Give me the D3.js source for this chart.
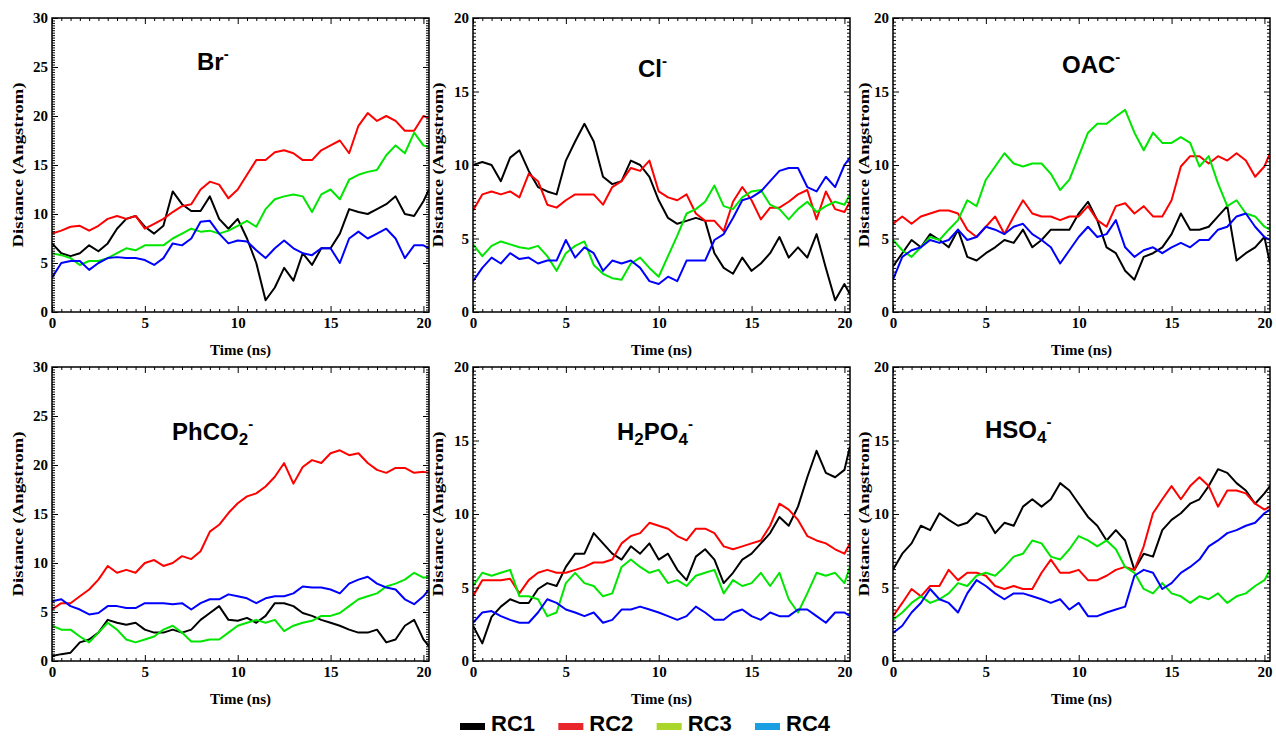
<!DOCTYPE html>
<html>
<head>
<meta charset="utf-8">
<script src="https://cdn.jsdelivr.net/npm/d3@7"></script>
<style>
  body { margin: 0; background: #fff; }
  .tick text { font-family: "Liberation Serif", "Times New Roman", serif; font-weight: bold; font-size: 15px; fill: #000; }
  .tick line { stroke: #000; stroke-width: 1; }
  .axlab { font-family: "Liberation Serif", "Times New Roman", serif; font-weight: bold; font-size: 15px; fill: #000; }
  .title { font-family: "Liberation Sans", Arial, sans-serif; font-weight: bold; font-size: 24px; fill: #000; }
  .legend text { font-family: "Liberation Sans", Arial, sans-serif; font-weight: bold; font-size: 22px; fill: #000; }
</style>
</head>
<body>
<svg id="chart" width="1276" height="738"></svg>
<script>
// time axis (ns), shared by every trace
var time = [0,0.5,1,1.5,2,2.5,3,3.5,4,4.5,5,5.5,6,6.5,7,7.5,8,8.5,9,9.5,
            10,10.5,11,11.5,12,12.5,13,13.5,14,14.5,15,15.5,16,16.5,17,17.5,18,18.5,19,19.5,20,20.3];

var seriesNames = ["RC1", "RC2", "RC3", "RC4"];

// distances (Angstrom), one row per RC
var brData = [
  [7,6,5.7,6,6.8,6.2,7,8.5,9.5,9.8, 8.7,8,8.8,12.3,11,10.3,10.3,11.8,9.5,8.5, 9.5,7.5,5,1.2,2.5,4.5,3.2,6,4.8,6.5, 6.5,8,10.5,10.2,10,10.5,11,11.8,10,9.8, 11.3,12.5],
  [8,8.3,8.7,8.8,8.3,8.8,9.5,9.8,9.5,9.8, 8.5,9,9.5,10.2,10.8,11,12.5,13.3,13,11.6, 12.5,14,15.5,15.5,16.3,16.5,16.2,15.5,15.5,16.5, 17,17.5,16.2,19,20.3,19.5,20,19.5,18.5,18.5, 20,19.8],
  [6,5.8,5.5,4.8,5.2,5.2,5.5,6,6.5,6.3, 6.8,6.8,6.8,7.5,8,8.5,8.2,8.3,8,8.3, 8.8,9.3,8.7,10.5,11.5,11.8,12,11.8,10.2,12, 12.5,11.5,13.5,14,14.3,14.5,16,17,16.2,18.3, 17,16.8],
  [3.5,5,5.2,5.2,4.3,5,5.5,5.6,5.5,5.5, 5.3,4.8,5.5,7,6.8,7.5,9.2,9.3,8,7, 7.3,7.2,6.3,5.5,6.5,7.3,6.5,6,5.8,6.5, 6.5,5,7.5,8.2,7.5,8,8.5,7.5,5.5,6.8, 6.8,6.5]
];
var clData = [
  [10,10.2,10,8.9,10.5,11,9.6,8.5,8.2,8, 10.3,11.6,12.8,11.6,9.2,8.7,8.9,10.3,10,9.2, 7.6,6.4,6,6.2,6.4,6.2,4,3,2.6,3.7, 2.8,3.3,4,5.1,3.7,4.4,3.7,5.3,3,0.8, 1.9,1.2],
  [6.9,8,8.2,8,8.2,7.8,9.4,8.9,7.3,7.1, 7.6,8,8,8,7.3,8.5,8.9,9.8,9.6,10.3, 8.2,7.8,7.6,8,6.7,6.2,6.2,5.5,7.5,8.5, 7.6,6.3,7.1,7.1,7.5,8,8.3,6.3,8.2,7, 6.8,7.5],
  [4.6,3.8,4.5,4.8,4.6,4.4,4.3,4.5,3.8,2.8, 4,4.5,4.8,3.2,2.6,2.3,2.2,3.3,3.7,3, 2.4,3.8,5.2,6.7,7,7.5,8.6,7.2,7,7.8, 8.2,8.3,7.3,7,6.3,7,7.5,6.8,7.2,7.5, 7.3,8],
  [2.1,3,3.7,3.3,4,3.6,3.7,3.3,3.5,3.5, 4.9,3.7,4.4,4,2.8,3.5,3.3,3.5,3,2.1, 1.9,2.4,2.1,3.5,3.5,3.5,4.9,5.3,6.4,7.6, 7.8,8.2,8.9,9.6,9.8,9.8,8.5,8.2,9.2,8.5, 10,10.5]
];
var oacData = [
  [3.1,4,4.9,4.4,5.3,4.9,4.4,5.6,3.75,3.5, 4,4.4,4.9,4.7,5.6,4.4,4.9,5.6,5.6,5.6, 6.7,7.5,6.25,4.4,4,2.8,2.2,3.75,4,4.4, 5.3,6.7,5.6,5.6,5.8,6.5,7.2,3.5,4,4.4, 5.1,3.3],
  [6,6.5,6,6.5,6.7,6.9,6.9,6.7,5.6,5.1, 5.8,6.5,5.3,6.5,7.6,6.7,6.5,6.5,6.25,6.5, 6.5,7.2,6.25,5.8,7.2,7.4,6.7,7.2,6.5,6.5, 7.6,9.9,10.6,10.6,10.1,10.6,10.3,10.8,10.3,9.2, 9.9,10.8],
  [4.9,4.2,3.75,4.4,5.1,4.9,5.6,6.25,7.6,7.2, 9,9.9,10.8,10.1,9.9,10.1,10.1,9.4,8.3,9, 10.6,12.2,12.8,12.8,13.3,13.75,12.2,11,12.2,11.5, 11.5,11.9,11.5,9.9,10.6,8.75,7.2,7.6,6.7,6.5, 5.8,5.6],
  [2.2,3.75,4.2,4.4,4.9,4.7,4.9,5.6,4.9,5.1, 5.8,5.6,5.3,5.8,6,5.3,4.9,4.4,3.3,4.2, 5.1,5.8,5.1,5.3,6.25,4.4,3.75,4.2,4.4,4, 4.4,4.7,4.4,4.9,4.9,5.6,5.8,6.5,6.7,5.8, 5.1,4.9]
];
var phco2Data = [
  [0.5,0.7,0.85,1.9,2.2,2.9,4.2,3.9,3.7,3.9, 3.2,2.9,2.9,3.2,2.9,3.2,4.2,4.9,5.6,4.2, 4.1,4.4,3.9,4.6,5.9,5.9,5.6,4.9,4.6,4.2, 3.9,3.6,3.2,2.9,2.9,3.2,1.9,2.2,3.6,4.2, 2.2,1.5],
  [5.25,5.9,5.9,6.6,7.3,8.3,9.7,9,9.3,9, 10,10.3,9.7,10,10.7,10.4,11.2,13.2,13.9,15.1, 16.1,16.8,17.1,17.8,18.8,20.2,18.1,19.8,20.5,20.2, 21.2,21.5,21,21.2,20.2,19.5,19.2,19.7,19.7,19.2, 19.3,19.2],
  [3.6,3.2,3.2,2.5,1.9,2.9,3.9,3.2,2.2,1.9, 2.2,2.5,3.2,3.6,2.9,2,2,2.2,2.2,2.9, 3.6,3.9,4.2,3.9,4.2,3.05,3.6,3.9,4.1,4.6, 4.6,4.9,5.6,6.3,6.6,6.9,7.6,7.9,8.3,9, 8.5,8.6],
  [6.1,6.3,5.6,5.25,4.75,4.9,5.6,5.6,5.4,5.4, 5.9,5.9,5.9,5.8,5.9,5.25,5.9,6.3,6.3,6.8, 6.6,6.4,5.9,6.4,6.6,6.6,6.9,7.6,7.5,7.5, 7.3,6.9,7.9,8.3,8.6,7.9,7.5,7.3,6.3,5.8, 6.6,7.3]
];
var h2po4Data = [
  [2.4,1.2,3,3.7,4.2,3.95,3.95,4.9,5.3,5.1, 6.4,7.3,7.3,8.7,8,7.3,6.9,7.8,7.3,8, 6.9,7.3,6.2,5.5,7.1,7.6,6.9,5.3,6,6.9, 7.3,8,8.7,9.8,9.2,10.5,12.5,14.3,12.8,12.5, 13,14.6],
  [4.4,5.5,5.5,5.5,5.6,4.6,5.5,6,6.2,6, 6,6.2,6.4,6.7,6.7,6.9,8,8.5,8.7,9.4, 9.2,9,8.5,8.2,9,9,8.7,7.8,7.6,7.8, 8,8.2,9.2,10.7,10.3,9.6,8.5,8.2,8,7.6, 7.3,8],
  [5.1,6,5.8,6,6.2,4.4,4.4,4.2,3.05,3.3, 5.3,6,5.3,5.1,4.4,4.6,6.4,6.9,6.4,6, 6.2,5.3,5.5,5.1,5.8,6,6.2,4.6,5.5,5.1, 5.3,6,5.1,6,4.2,3.3,4.6,6,5.8,6, 5.3,6.4],
  [2.6,3.3,3.4,3.05,2.8,2.6,2.6,3.3,4.2,3.95, 3.5,3.3,3.05,3.3,2.6,2.8,3.5,3.5,3.7,3.5, 3.3,3.05,2.8,3.05,3.7,3.3,2.8,2.8,3.3,3.5, 3.05,2.8,3.3,3.05,3.05,3.5,3.5,3.05,2.6,3.3, 3.3,3.05]
];
var hso4Data = [
  [6.2,7.3,8,9.2,8.9,10.05,9.6,9.2,9.4,10.05, 9.8,8.7,9.4,9.2,10.5,11,10.5,11,12.1,11.6, 10.7,9.8,9.2,8.2,8.9,8.2,6.2,7.3,7.1,8.9, 9.6,10.05,10.7,11,11.9,13.05,12.8,12.1,11.6,10.7, 11.4,11.9],
  [3.05,3.95,4.9,4.4,5.1,5.1,6.2,5.5,6,6, 5.8,5.1,4.9,5.1,4.9,4.9,6,6.9,6,6, 6.2,5.5,5.5,5.8,6.2,6.4,6.2,7.8,10.05,11, 11.9,11,11.9,12.5,11.9,10.5,11.6,11.6,11.4,10.7, 10.3,10.5],
  [2.8,3.3,3.95,4.4,3.95,4.2,4.6,5.3,5.1,5.8, 6,5.8,6.4,7.1,7.3,8.2,8,7.1,6.9,7.6, 8.5,8.2,7.8,8.2,7.6,6.4,6,4.9,4.6,5.3, 4.6,4.4,3.95,4.4,4.2,4.6,3.95,4.4,4.6,5.1, 5.5,6.2],
  [1.9,2.4,3.3,3.95,4.9,4.2,3.95,3.3,4.6,5.5, 5.1,4.6,4.2,4.6,4.6,4.4,4.2,3.95,4.2,3.5, 3.95,3.05,3.05,3.3,3.5,3.7,5.8,6.2,6,4.9, 5.3,6,6.4,6.9,7.8,8.2,8.7,8.9,9.2,9.4, 10.05,10.3]
];

var yMaxes = [30, 20, 20, 30, 20, 20];
var xTicks = [0, 5, 10, 15, 20];

// panel titles: [text, "n" normal | "b" subscript | "p" superscript]
var titles = [
  [["Br","n"],["-","p"]],
  [["Cl","n"],["-","p"]],
  [["OAC","n"],["-","p"]],
  [["PhCO","n"],["2","b"],["-","p"]],
  [["H","n"],["2","b"],["PO","n"],["4","b"],["-","p"]],
  [["HSO","n"],["4","b"],["-","p"]]
];

// LAYOUT
var colLeft = [52, 473, 893],
    rowTop = [18, 367],
    pw = 377, ph = 294,
    ylabOff = [29, 30, 24],
    titlePos = [[145,52],[165,59],[169,55],[120,73],[144,73],[92,71]];

var lineColors = ["#000000", "#ff0000", "#00e600", "#0000ff"],
    legendColors = ["#000000", "#e8262b", "#aad52b", "#1a9fe3"];

var panels = [brData, clData, oacData, phco2Data, h2po4Data, hso4Data];

var svg = d3.select("#chart");
var defs = svg.append("defs");

panels.forEach(function(data, p) {
  var col = p % 3, row = Math.floor(p / 3);
  var left = colLeft[col], top = rowTop[row];
  var yMax = yMaxes[p];

  var x = d3.scaleLinear().domain([0, 20.3]).range([left, left + pw]);
  var y = d3.scaleLinear().domain([0, yMax]).range([top + ph, top]);

  defs.append("clipPath").attr("id", "clip" + p)
    .append("rect").attr("x", left).attr("y", top).attr("width", pw).attr("height", ph);

  var g = svg.append("g");

  // traces
  var line = d3.line()
    .x(function(d, i) { return x(time[i]); })
    .y(function(d) { return y(d); });

  g.append("g").attr("clip-path", "url(#clip" + p + ")")
    .selectAll("path").data(data).enter().append("path")
    .attr("d", line)
    .attr("fill", "none")
    .attr("stroke", function(d, i) { return lineColors[i]; })
    .attr("stroke-width", 2)
    .attr("stroke-linejoin", "round");

  // ticks on all four sides, pointing inward
  var xMinor = d3.range(0.5, 20.3, 0.5).filter(function(v) { return v % 5 !== 0; });
  var yMinor = d3.range(0.25, yMax, 0.25).filter(function(v) { return v % 5 !== 0; });
  var yMajor = d3.range(0, yMax + 1, 5);

  function ax(gen, pos, vals, size, labels) {
    var a = gen.tickValues(vals).tickSizeInner(-size).tickSizeOuter(0).tickPadding(labels ? 5 : 0);
    if (!labels) a.tickFormat("");
    var s = g.append("g").attr("transform", pos).call(a);
    s.select(".domain").remove();
    return s;
  }
  ax(d3.axisBottom(x), "translate(0," + (top + ph) + ")", xTicks, 6, true);
  ax(d3.axisBottom(x), "translate(0," + (top + ph) + ")", xMinor, 3, false);
  ax(d3.axisTop(x), "translate(0," + top + ")", xTicks, 6, false);
  ax(d3.axisTop(x), "translate(0," + top + ")", xMinor, 3, false);
  var yl = ax(d3.axisLeft(y), "translate(" + left + ",0)", yMajor, 6, true);
  yl.selectAll("text").attr("x", -4);
  ax(d3.axisLeft(y), "translate(" + left + ",0)", yMinor, 3, false);
  ax(d3.axisRight(y), "translate(" + (left + pw) + ",0)", yMajor, 6, false);
  ax(d3.axisRight(y), "translate(" + (left + pw) + ",0)", yMinor, 3, false);

  g.append("rect")
    .attr("x", left).attr("y", top).attr("width", pw).attr("height", ph)
    .attr("fill", "none").attr("stroke", "#000").attr("stroke-width", 1.5);

  // axis titles
  g.append("text").attr("class", "axlab")
    .attr("x", left + pw / 2).attr("y", top + ph + 43)
    .attr("text-anchor", "middle")
    .text("Time (ns)");

  g.append("text").attr("class", "axlab")
    .attr("transform", "translate(" + (left - ylabOff[col]) + "," + (top + ph / 2) + ") rotate(-90)")
    .attr("text-anchor", "middle")
    .attr("textLength", 165).attr("lengthAdjust", "spacingAndGlyphs")
    .text("Distance (Angstrom)");

  // anion title
  var t = g.append("text").attr("class", "title")
    .attr("x", left + titlePos[p][0]).attr("y", top + titlePos[p][1]);
  var cur = 0;
  titles[p].forEach(function(part) {
    var target = part[1] === "b" ? 5 : part[1] === "p" ? -11 : 0;
    var ts = t.append("tspan").attr("dy", target - cur).text(part[0]);
    if (part[1] === "b") ts.style("font-size", "17px");
    if (part[1] === "p") ts.style("font-size", "15px");
    cur = target;
  });
});

// LEGEND
var legend = svg.append("g").attr("class", "legend");
var lx = d3.scalePoint().domain(seriesNames).range([460, 755]);
var items = legend.selectAll("g").data(seriesNames).enter().append("g")
  .attr("transform", function(d) { return "translate(" + lx(d) + ",0)"; });
items.append("rect")
  .attr("x", 0).attr("y", 723).attr("width", 25).attr("height", 7)
  .attr("fill", function(d, i) { return legendColors[i]; });
items.append("text")
  .attr("x", 31).attr("y", 731)
  .text(function(d) { return d; });
</script>
</body>
</html>
